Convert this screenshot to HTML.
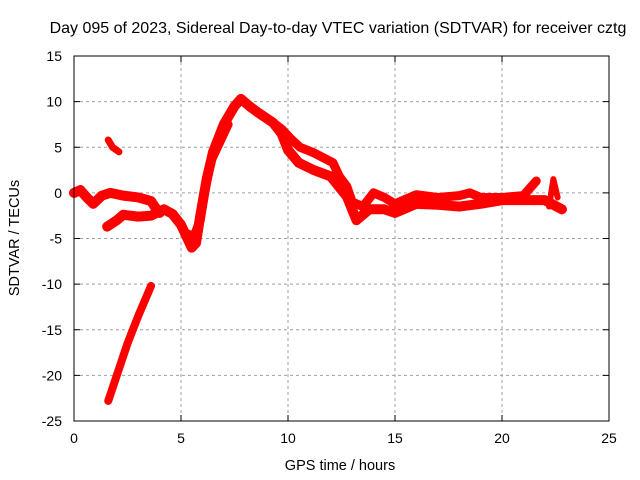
<!DOCTYPE html>
<html><head><meta charset="utf-8"><style>
body{margin:0;background:#fff}
svg{display:block;font-family:"Liberation Sans",sans-serif}
</style></head><body>
<svg id="chart" width="640" height="480">
<text x="338" y="33" font-size="16" text-anchor="middle">Day 095 of 2023, Sidereal Day-to-day VTEC variation (SDTVAR) for receiver cztg</text>
<text x="340" y="470" font-size="14.5" text-anchor="middle">GPS time / hours</text>
<text transform="translate(19,238) rotate(-90)" font-size="14.5" text-anchor="middle">SDTVAR / TECUs</text>
<g id="grid"></g><g id="data"></g>
<rect x="74" y="56" width="535" height="365" fill="none" stroke="#000" stroke-width="1"/>
</svg>
<script>
const xTicks=[0,5,10,15,20,25];
const yTicks=[15,10,5,0,-5,-10,-15,-20,-25];
const trackAx=[0,0.3,0.6,0.9,1.3,1.7,2.3,3,3.6,3.8,4.0];
const trackAy=[0,0.3,-0.5,-1.2,-0.3,0,-0.3,-0.5,-0.9,-1.6,-2.2];
const trackBx=[1.55,2,2.3,3,3.6,4.2,4.6,5,5.3,5.5,5.7,5.9,6.2,6.5,7,7.5,7.8,8.2,8.6,9.3,9.7,10,10.5,11.2,12,12.75,13.2,13.8,14.5,15,16,17,18,19,20,21,22,22.8];
const trackBy=[-3.7,-3,-2.4,-2.6,-2.5,-1.8,-2.3,-3.5,-5,-6,-5.5,-2.5,1.5,4.5,7.5,9.5,10.3,9.5,8.8,7.7,6.5,4.7,3.3,2.5,1.8,-0.4,-3,-1.8,-1.8,-2.2,-1.2,-1.3,-1.5,-1.2,-0.8,-0.8,-0.8,-1.8];
const trackGx=[5.3,5.6,5.9,6.1,6.4,6.8,7.2];
const trackGy=[-4.5,-4.8,-3,0,3.5,5.5,7.5];
const trackCx=[9.3,9.7,10.1,10.56,11.2,12.1,12.4,12.75,13,13.5,14,14.5,15,16,17,18,18.5,19,20,21,21.6];
const trackCy=[7.7,7,6,5,4.4,3.3,1.8,0.7,-1,-1.5,0,-0.5,-1.2,-0.2,-0.5,-0.3,0,-0.5,-0.5,-0.3,1.3];
const trackDx=[22.2,22.4,22.6];
const trackDy=[-1.5,1.5,-0.5];
const trackEx=[1.6,1.8,2.1];
const trackEy=[5.8,5,4.5];
const trackFx=[1.6,2,2.5,3,3.6];
const trackFy=[-22.8,-20,-16.5,-13.5,-10.2];
const X=v=>74+v*(535/25), Y=v=>56+(15-v)*(365/40);
const NS="http://www.w3.org/2000/svg",svg=document.getElementById('chart');
const grid=document.getElementById('grid'),data=document.getElementById('data');
function mk(t,p,a){const e=document.createElementNS(NS,t);for(const k in a)e.setAttribute(k,a[k]);p.appendChild(e);return e;}
xTicks.forEach(v=>{
 if(v>0&&v<25){const l=mk('line',grid,{x1:X(v),x2:X(v),y1:56,y2:421,stroke:'#a0a0a0','stroke-dasharray':'3,3'});
 
 }
 mk('line',grid,{x1:X(v),x2:X(v),y1:421,y2:415,stroke:'#000'});
 mk('line',grid,{x1:X(v),x2:X(v),y1:56,y2:62,stroke:'#000'});
 const t=mk('text',grid,{x:X(v),y:443,'font-size':14,'text-anchor':'middle'});t.textContent=v;
 
 
});
yTicks.forEach(v=>{
 if(v<15&&v>-25){const l=mk('line',grid,{x1:74,x2:609,y1:Y(v),y2:Y(v),stroke:'#a0a0a0','stroke-dasharray':'3,3'});
 
 }
 mk('line',grid,{x1:74,x2:80,y1:Y(v),y2:Y(v),stroke:'#000'});
 mk('line',grid,{x1:603,x2:609,y1:Y(v),y2:Y(v),stroke:'#000'});
 const t=mk('text',grid,{x:62,y:Y(v)+5,'font-size':14,'text-anchor':'end'});t.textContent=v;
 
 
});
[[trackAx,trackAy,'track-a',10],[trackBx,trackBy,'track-b',10],[trackGx,trackGy,'track-g',9],[trackCx,trackCy,'track-c',9],[trackDx,trackDy,'track-d',6],[trackEx,trackEy,'track-e',7],[trackFx,trackFy,'track-f',8]].forEach(([xs,ys,n,w])=>{
 const pts=xs.map((x,i)=>X(x)+','+Y(ys[i])).join(' ');
 const p=mk('polyline',data,{points:pts,fill:'none',stroke:'#f00','stroke-width':w,'stroke-linejoin':'round','stroke-linecap':'round'});
 
 
});
</script>
</body></html>
